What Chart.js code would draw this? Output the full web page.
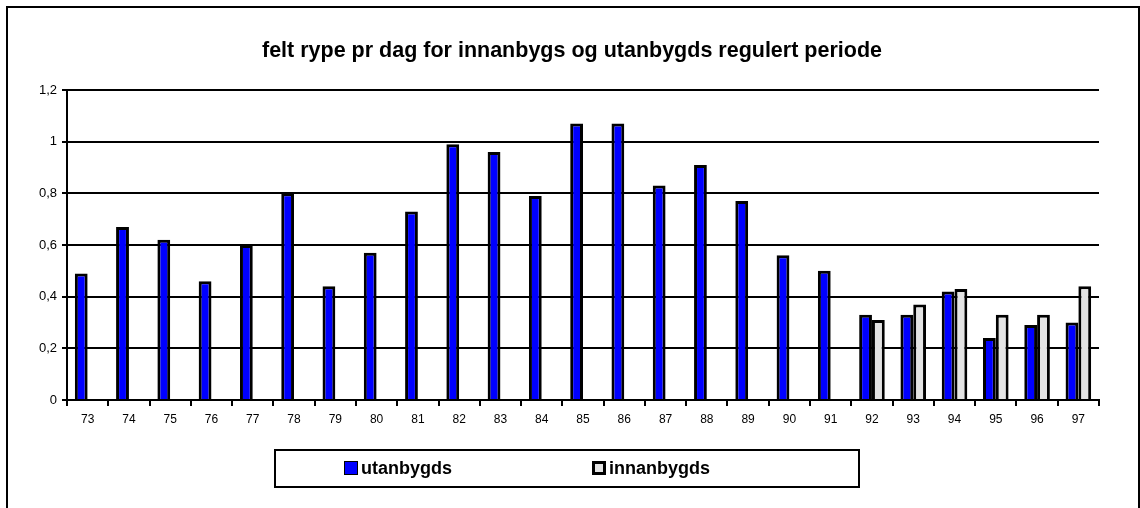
<!DOCTYPE html>
<html>
<head>
<meta charset="utf-8">
<script src="https://cdn.jsdelivr.net/npm/chart.js@4.4.0/dist/chart.umd.min.js"></script>
<style>
  html, body { margin: 0; padding: 0; background: #fff; overflow: hidden; }
  #wrap { position: relative; width: 1140px; height: 508px; }
  #frame {
    position: absolute; left: 6px; top: 6px; width: 1130px; height: 520px;
    border: 2px solid #000; box-sizing: content-box;
  }
  #title {
    position: absolute; left: 0; top: 38px; width: 1144px; height: 24px; line-height: 24px;
    text-align: center; font: bold 21.5px "Liberation Sans", Arial, sans-serif; color: #000;
  }
  #legend {
    position: absolute; left: 274px; top: 449px; width: 582px; height: 35px;
    border: 2px solid #000; font: bold 18px "Liberation Sans", Arial, sans-serif; color: #000;
  }
  .item { position: absolute; top: 0; height: 35px; line-height: 35px; white-space: nowrap; }
  .box { display: inline-block; width: 14px; height: 14px; box-sizing: border-box; margin-right: 3px; vertical-align: -1px; }
  #legUt { left: 68px; }
  #legUt .box { background: #0000ff; border: 1.5px solid #000; }
  #legInn { left: 316px; }
  #legInn .box { background: #e3e3e3; border: 3px solid #000; }
</style>
</head>
<body>
<div id="wrap">
  <canvas id="ryeChart" width="1140" height="508"></canvas>
  <div id="frame"></div>
  <div id="title">felt rype pr dag for innanbygs og utanbygds regulert periode</div>
  <div id="legend">
    <span class="item" id="legUt"><span class="box"></span>utanbygds</span>
    <span class="item" id="legInn"><span class="box"></span>innanbygds</span>
  </div>
</div>
<script>
// years (x categories)
const years = ["73", "74", "75", "76", "77", "78", "79", "80", "81", "82", "83", "84", "85",
  "86", "87", "88", "89", "90", "91", "92", "93", "94", "95", "96", "97"];

// felt rype pr dag
const utanbygds = [0.49, 0.67, 0.62, 0.46, 0.60, 0.80, 0.44, 0.57, 0.73, 0.99, 0.96, 0.79, 1.07,
  1.07, 0.83, 0.91, 0.77, 0.56, 0.50, 0.33, 0.33, 0.42, 0.24, 0.29, 0.30];
const innanbygds = [null, null, null, null, null, null, null, null, null, null, null, null, null,
  null, null, null, null, null, null, 0.31, 0.37, 0.43, 0.33, 0.33, 0.44];

const yTickLabels = ["0", "0,2", "0,4", "0,6", "0,8", "1", "1,2"];

const FONT = "'Liberation Sans', Arial, sans-serif";

const ctx = document.getElementById("ryeChart").getContext("2d");
new Chart(ctx, {
  type: "bar",
  data: {
    labels: years,
    datasets: [
      {
        label: "utanbygds",
        data: utanbygds,
        backgroundColor: "#0000ff",
        borderColor: "#000",
        borderWidth: 3
      },
      {
        label: "innanbygds",
        data: innanbygds,
        backgroundColor: "#e3e3e3",
        borderColor: "#000",
        borderWidth: 3
      }
    ]
  },
  options: {
    responsive: false,
    animation: false,
    categoryPercentage: 0.62,
    barPercentage: 1.0,
    layout: { padding: { left: 0, right: 41, top: 90, bottom: 78 } },
    plugins: {
      legend: { display: false },
      tooltip: { enabled: false },
      title: { display: false }
    },
    scales: {
      x: {
        grid: {
          drawOnChartArea: false,
          drawTicks: true,
          tickLength: 6,
          color: "#000",
          lineWidth: 2
        },
        border: { color: "#000", width: 2 },
        ticks: {
          color: "#000",
          font: { family: FONT, size: 12 },
          padding: 6,
          maxRotation: 0,
          autoSkip: false
        },
        afterFit: (scale) => { scale.height = 30; }
      },
      y: {
        min: 0,
        max: 1.2,
        grid: {
          color: "#000",
          lineWidth: 2,
          drawTicks: true,
          tickLength: 5
        },
        border: { color: "#000", width: 2 },
        ticks: {
          stepSize: 0.2,
          color: "#000",
          font: { family: FONT, size: 13 },
          padding: 5,
          callback: (value, index) => yTickLabels[index]
        },
        afterFit: (scale) => { scale.width = 67; }
      }
    }
  }
});
</script>
</body>
</html>
